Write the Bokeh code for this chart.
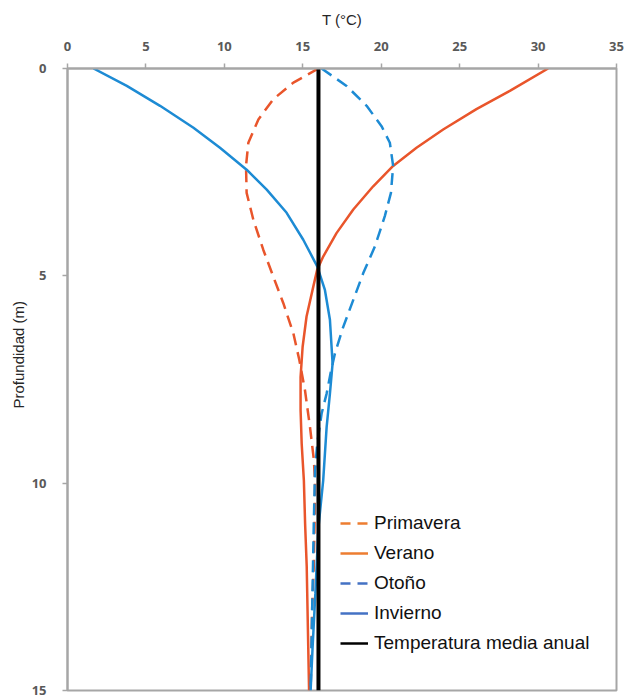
from bokeh.plotting import figure
from bokeh.models import Range1d, LinearAxis, FixedTicker, Legend, LegendItem, Title
from bokeh.embed import file_html
from bokeh.resources import INLINE

# ---- data ----
x_ticks = [0, 5, 10, 15, 20, 25, 30, 35]
y_ticks = [0, 5, 10, 15]

primavera_d = [0, 0.34, 0.74, 1.23, 1.79, 2.35, 3.0, 3.65, 4.37, 5.02, 5.66, 6.39, 7.03, 7.76, 8.65, 9.45, 10.0, 11, 12, 13, 14, 15]
primavera_t = [16.0, 14.4, 13.12, 12.17, 11.53, 11.38, 11.42, 11.85, 12.48, 13.12, 13.76, 14.4, 14.78, 15.14, 15.46, 15.71, 15.78, 15.75, 15.7, 15.6, 15.55, 15.5]

verano_d = [0, 0.54, 0.98, 1.47, 1.91, 2.35, 2.84, 3.40, 3.97, 4.53, 4.85, 5.26, 5.98, 6.71, 7.44, 8.24, 9.05, 9.94, 11, 12, 13, 14, 15]
verano_t = [30.64, 28.2, 26.07, 23.95, 22.25, 20.76, 19.49, 18.22, 17.15, 16.31, 15.92, 15.67, 15.24, 14.99, 14.86, 14.86, 14.93, 15.07, 15.15, 15.25, 15.3, 15.35, 15.4]

otono_d = [0, 0.42, 0.90, 1.39, 1.79, 2.35, 3.0, 3.56, 4.29, 4.94, 5.58, 6.23, 6.87, 7.35, 7.84, 8.32, 9.05, 9.69, 11, 12, 13, 14, 15]
otono_t = [16.2, 17.79, 19.07, 20.02, 20.55, 20.76, 20.62, 20.23, 19.6, 18.85, 18.22, 17.58, 17.05, 16.77, 16.52, 16.2, 15.92, 15.78, 15.7, 15.65, 15.6, 15.55, 15.5]

invierno_d = [0, 0.42, 0.90, 1.43, 1.91, 2.44, 2.92, 3.48, 4.13, 4.77, 5.34, 6.06, 7.11, 7.84, 8.65, 9.94, 11.06, 12.67, 14.0, 15]
invierno_t = [1.66, 3.78, 5.9, 8.03, 9.72, 11.42, 12.7, 13.97, 15.03, 15.92, 16.41, 16.73, 16.9, 16.73, 16.52, 16.3, 16.0, 15.8, 15.62, 15.5]

media_d = [0, 15]
media_t = [16.0, 16.0]

labels = ["Primavera", "Verano", "Otoño", "Invierno", "Temperatura media anual"]

ORANGE = "#E9552B"
BLUE = "#1D8BD4"
LEG_ORANGE = "#ED7D31"
LEG_BLUE = "#4472C4"
GRAY = "#A6A6A6"
FONT = "Liberation Sans"

p = figure(width=624, height=698, output_backend="svg", toolbar_location=None,
           x_range=Range1d(0, 35), y_range=Range1d(15, 0),
           x_axis_location=None, y_axis_location=None,
           min_border_left=67, min_border_right=8, min_border_top=68, min_border_bottom=8)
p.grid.visible = False
p.outline_line_color = GRAY
p.outline_line_width = 2
p.background_fill_color = "white"
p.border_fill_color = "white"

xa = LinearAxis(ticker=FixedTicker(ticks=x_ticks), axis_label="T (°C)")
ya = LinearAxis(ticker=FixedTicker(ticks=y_ticks))
for ax in (xa, ya):
    ax.axis_line_color = GRAY
    ax.axis_line_width = 2
    ax.major_tick_line_color = GRAY
    ax.major_tick_line_width = 1.5
    ax.major_tick_in = 0
    ax.major_tick_out = 5
    ax.minor_tick_line_color = None
    ax.major_label_text_font = "Open Sans"
    ax.major_label_text_font_style = "bold"
    ax.major_label_text_font_size = "13px"
    ax.major_label_text_color = "#595959"
    ax.axis_label_text_font = FONT
    ax.axis_label_text_font_style = "normal"
    ax.axis_label_text_font_size = "15px"
    ax.axis_label_text_color = "#262626"
xa.major_label_standoff = 13
xa.axis_label_standoff = 11
ya.major_label_standoff = 16
p.add_layout(xa, "above")
p.add_layout(ya, "left")

ytitle = Title(text="Profundidad (m)", align="left", offset=282,
               text_font=FONT, text_font_size="15px", text_font_style="normal",
               text_color="#262626", standoff=4)
p.add_layout(ytitle, "left")

dash = "12 7"
p.line(primavera_t, primavera_d, line_color=ORANGE, line_width=2.5, line_dash=dash)
p.line(verano_t, verano_d, line_color=ORANGE, line_width=2.5)
p.line(otono_t, otono_d, line_color=BLUE, line_width=2.5, line_dash=dash)
p.line(invierno_t, invierno_d, line_color=BLUE, line_width=2.5)
p.line(media_t, media_d, line_color="black", line_width=4)

# legend swatches (no visible data, legend colours only)
nan = [float("nan")]
r1 = p.line(nan, nan, line_color=LEG_ORANGE, line_width=2.5, line_dash="10 7")
r2 = p.line(nan, nan, line_color=LEG_ORANGE, line_width=2.5)
r3 = p.line(nan, nan, line_color=LEG_BLUE, line_width=2.5, line_dash="10 7")
r4 = p.line(nan, nan, line_color=LEG_BLUE, line_width=2.5)
r5 = p.line(nan, nan, line_color="black", line_width=2.5)

legend = Legend(items=[LegendItem(label=l, renderers=[r]) for l, r in zip(labels, [r1, r2, r3, r4, r5])],
                location=(273, 36))
legend.padding = 0
legend.margin = 0
legend.spacing = 8
legend.glyph_width = 28
legend.glyph_height = 22
legend.label_standoff = 6
legend.label_text_font = FONT
legend.label_text_font_size = "19px"
legend.label_text_color = "#111111"
legend.border_line_color = None
legend.background_fill_alpha = 0
p.add_layout(legend, "center")

open("out.html", "w").write(file_html(p, INLINE))
